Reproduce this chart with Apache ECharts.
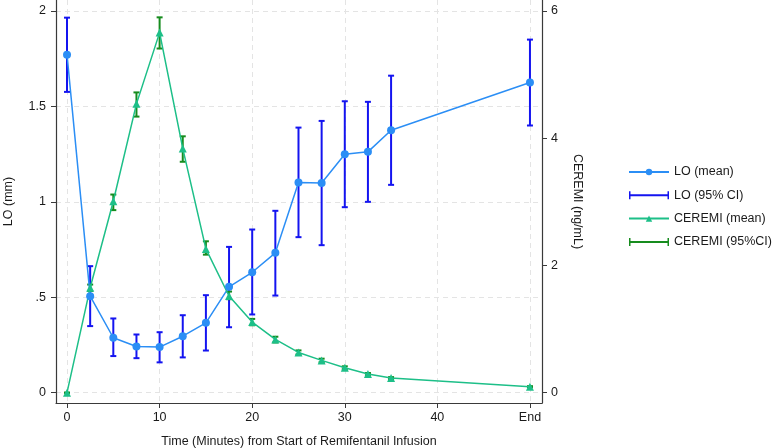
<!DOCTYPE html>
<html>
<head>
<meta charset="utf-8">
<script src="https://cdn.jsdelivr.net/npm/echarts@6/dist/echarts.min.js"></script>
<style>
html,body{margin:0;padding:0;background:#fff;}
#chart{width:778px;height:448px;}
</style>
</head>
<body>
<div id="chart"></div>
<script>
// ---- data ----
var xLabels = ['0','10','20','30','40','End'];
var xTickValues = [0,10,20,30,40,50];
var times = [0,2.5,5,7.5,10,12.5,15,17.5,20,22.5,25,27.5,30,32.5,35,50];
var loMean = [1.771,0.506,0.288,0.242,0.239,0.296,0.366,0.555,0.631,0.733,1.101,1.099,1.249,1.262,1.375,1.625];
var loLow  = [1.576,0.349,0.192,0.181,0.159,0.185,0.221,0.343,0.410,0.509,0.815,0.773,0.972,1.000,1.089,1.400];
var loHigh = [1.965,0.663,0.389,0.305,0.317,0.406,0.511,0.764,0.855,0.953,1.389,1.424,1.527,1.524,1.661,1.850];
var ceMean = [0,1.649,3.01,4.54,5.66,3.84,2.26,1.52,1.11,0.837,0.633,0.508,0.393,0.293,0.23,0.094];
var ceLow  = [0,1.60,2.87,4.34,5.41,3.63,2.17,1.47,1.06,0.79,0.60,0.48,0.37,0.275,0.215,0.085];
var ceHigh = [0,1.70,3.115,4.72,5.90,4.03,2.38,1.59,1.16,0.88,0.665,0.535,0.415,0.31,0.245,0.103];
var leftTicks = [0,0.5,1,1.5,2];
var rightTicks = [0,2,4,6];

var C_LO = '#2b8ef5', C_LOCI = '#1414f0', C_CE = '#1dbf88', C_CECI = '#178c1e';
var FONT = 'Liberation Sans, Arial, Helvetica, sans-serif';
var TXT = '#1a1a1a';

function ciSeries(name, lo, hi, color, yIdx) {
  return {
    type: 'custom', name: name, yAxisIndex: yIdx, z: 2,
    itemStyle: {color: color},
    data: times.map(function (t, i) { return [t, lo[i], hi[i]]; }),
    encode: {x: 0, y: [1, 2]},
    renderItem: function (params, api) {
      var x = api.value(0);
      var a = api.coord([x, api.value(1)]);
      var b = api.coord([x, api.value(2)]);
      var w = 3;
      var st = {stroke: color, lineWidth: 2};
      return {type: 'group', children: [
        {type: 'line', shape: {x1: a[0], y1: a[1], x2: b[0], y2: b[1]}, style: st},
        {type: 'line', shape: {x1: a[0]-w, y1: a[1], x2: a[0]+w, y2: a[1]}, style: st},
        {type: 'line', shape: {x1: b[0]-w, y1: b[1], x2: b[0]+w, y2: b[1]}, style: st}
      ]};
    }
  };
}

var ciIcon = 'path://M0,4h40v2h-40z M0,1h1.5v8h-1.5z M38.5,1h1.5v8h-1.5z';
var gridLine = {show: true, lineStyle: {color: '#e4e4e4', type: [5, 4], width: 1}};
var axisLine = {show: true, onZero: false, lineStyle: {color: '#3a3a3a', width: 1.2}};
var tick = {show: true, length: 5, lineStyle: {color: '#3a3a3a', width: 1}};
var labelStyle = {color: TXT, fontFamily: FONT, fontSize: 12.5};

var chart = echarts.init(document.getElementById('chart'), null, {renderer: 'canvas'});
chart.setOption({
  animation: false,
  backgroundColor: '#fff',
  grid: {left: 56, right: 236, top: 0, bottom: 45, containLabel: false, outerBoundsMode: 'none'},
  legend: {
    orient: 'vertical', left: 623, top: 160,
    itemWidth: 40, itemHeight: 8, itemGap: 9.3,
    textStyle: {color: TXT, fontFamily: FONT, fontSize: 12.5, lineHeight: 14},
    data: [
      {name: 'LO (mean)'},
      {name: 'LO (95% CI)', icon: ciIcon},
      {name: 'CEREMI (mean)'},
      {name: 'CEREMI (95%CI)', icon: ciIcon}
    ]
  },
  xAxis: {
    type: 'value', min: -1.19, max: 51.3,
    name: 'Time (Minutes) from Start of Remifentanil Infusion',
    nameLocation: 'middle', nameGap: 32,
    nameTextStyle: {color: TXT, fontFamily: FONT, fontSize: 12.5},
    axisLine: axisLine,
    axisTick: Object.assign({}, tick, {customValues: xTickValues}),
    axisLabel: Object.assign({}, labelStyle, {margin: 8, customValues: xTickValues,
      formatter: function (v) { return xLabels[xTickValues.indexOf(v)]; }}),
    splitLine: gridLine
  },
  yAxis: [{
    type: 'value', min: -0.0539, max: 2.0575, position: 'left',
    name: 'LO (mm)', nameLocation: 'middle', nameGap: 41, nameRotate: 90,
    nameTextStyle: {color: TXT, fontFamily: FONT, fontSize: 12.5},
    axisLine: axisLine,
    axisTick: Object.assign({}, tick, {customValues: leftTicks}),
    axisLabel: Object.assign({}, labelStyle, {margin: 10, customValues: leftTicks,
      formatter: function (v) { return String(v).replace(/^0\./, '.'); }}),
    splitLine: gridLine
  }, {
    type: 'value', min: -0.1617, max: 6.1726, position: 'right',
    name: 'CEREMI (ng/mL)', nameLocation: 'middle', nameGap: 29, nameRotate: -90,
    nameTextStyle: {color: TXT, fontFamily: FONT, fontSize: 12.5},
    axisLine: axisLine,
    axisTick: Object.assign({}, tick, {customValues: rightTicks}),
    axisLabel: Object.assign({}, labelStyle, {margin: 9, customValues: rightTicks}),
    splitLine: {show: false}
  }],
  series: [
    ciSeries('LO (95% CI)', loLow, loHigh, C_LOCI, 0),
    {
      type: 'line', name: 'LO (mean)', yAxisIndex: 0, z: 3,
      data: times.map(function (t, i) { return [t, loMean[i]]; }),
      symbol: 'circle', symbolSize: 8,
      lineStyle: {color: C_LO, width: 1.5}, itemStyle: {color: C_LO}
    },
    ciSeries('CEREMI (95%CI)', ceLow, ceHigh, C_CECI, 1),
    {
      type: 'line', name: 'CEREMI (mean)', yAxisIndex: 1, z: 3,
      data: times.map(function (t, i) { return [t, ceMean[i]]; }),
      symbol: 'triangle', symbolSize: 8,
      lineStyle: {color: C_CE, width: 1.5}, itemStyle: {color: C_CE}
    }
  ]
});
</script>
</body>
</html>
